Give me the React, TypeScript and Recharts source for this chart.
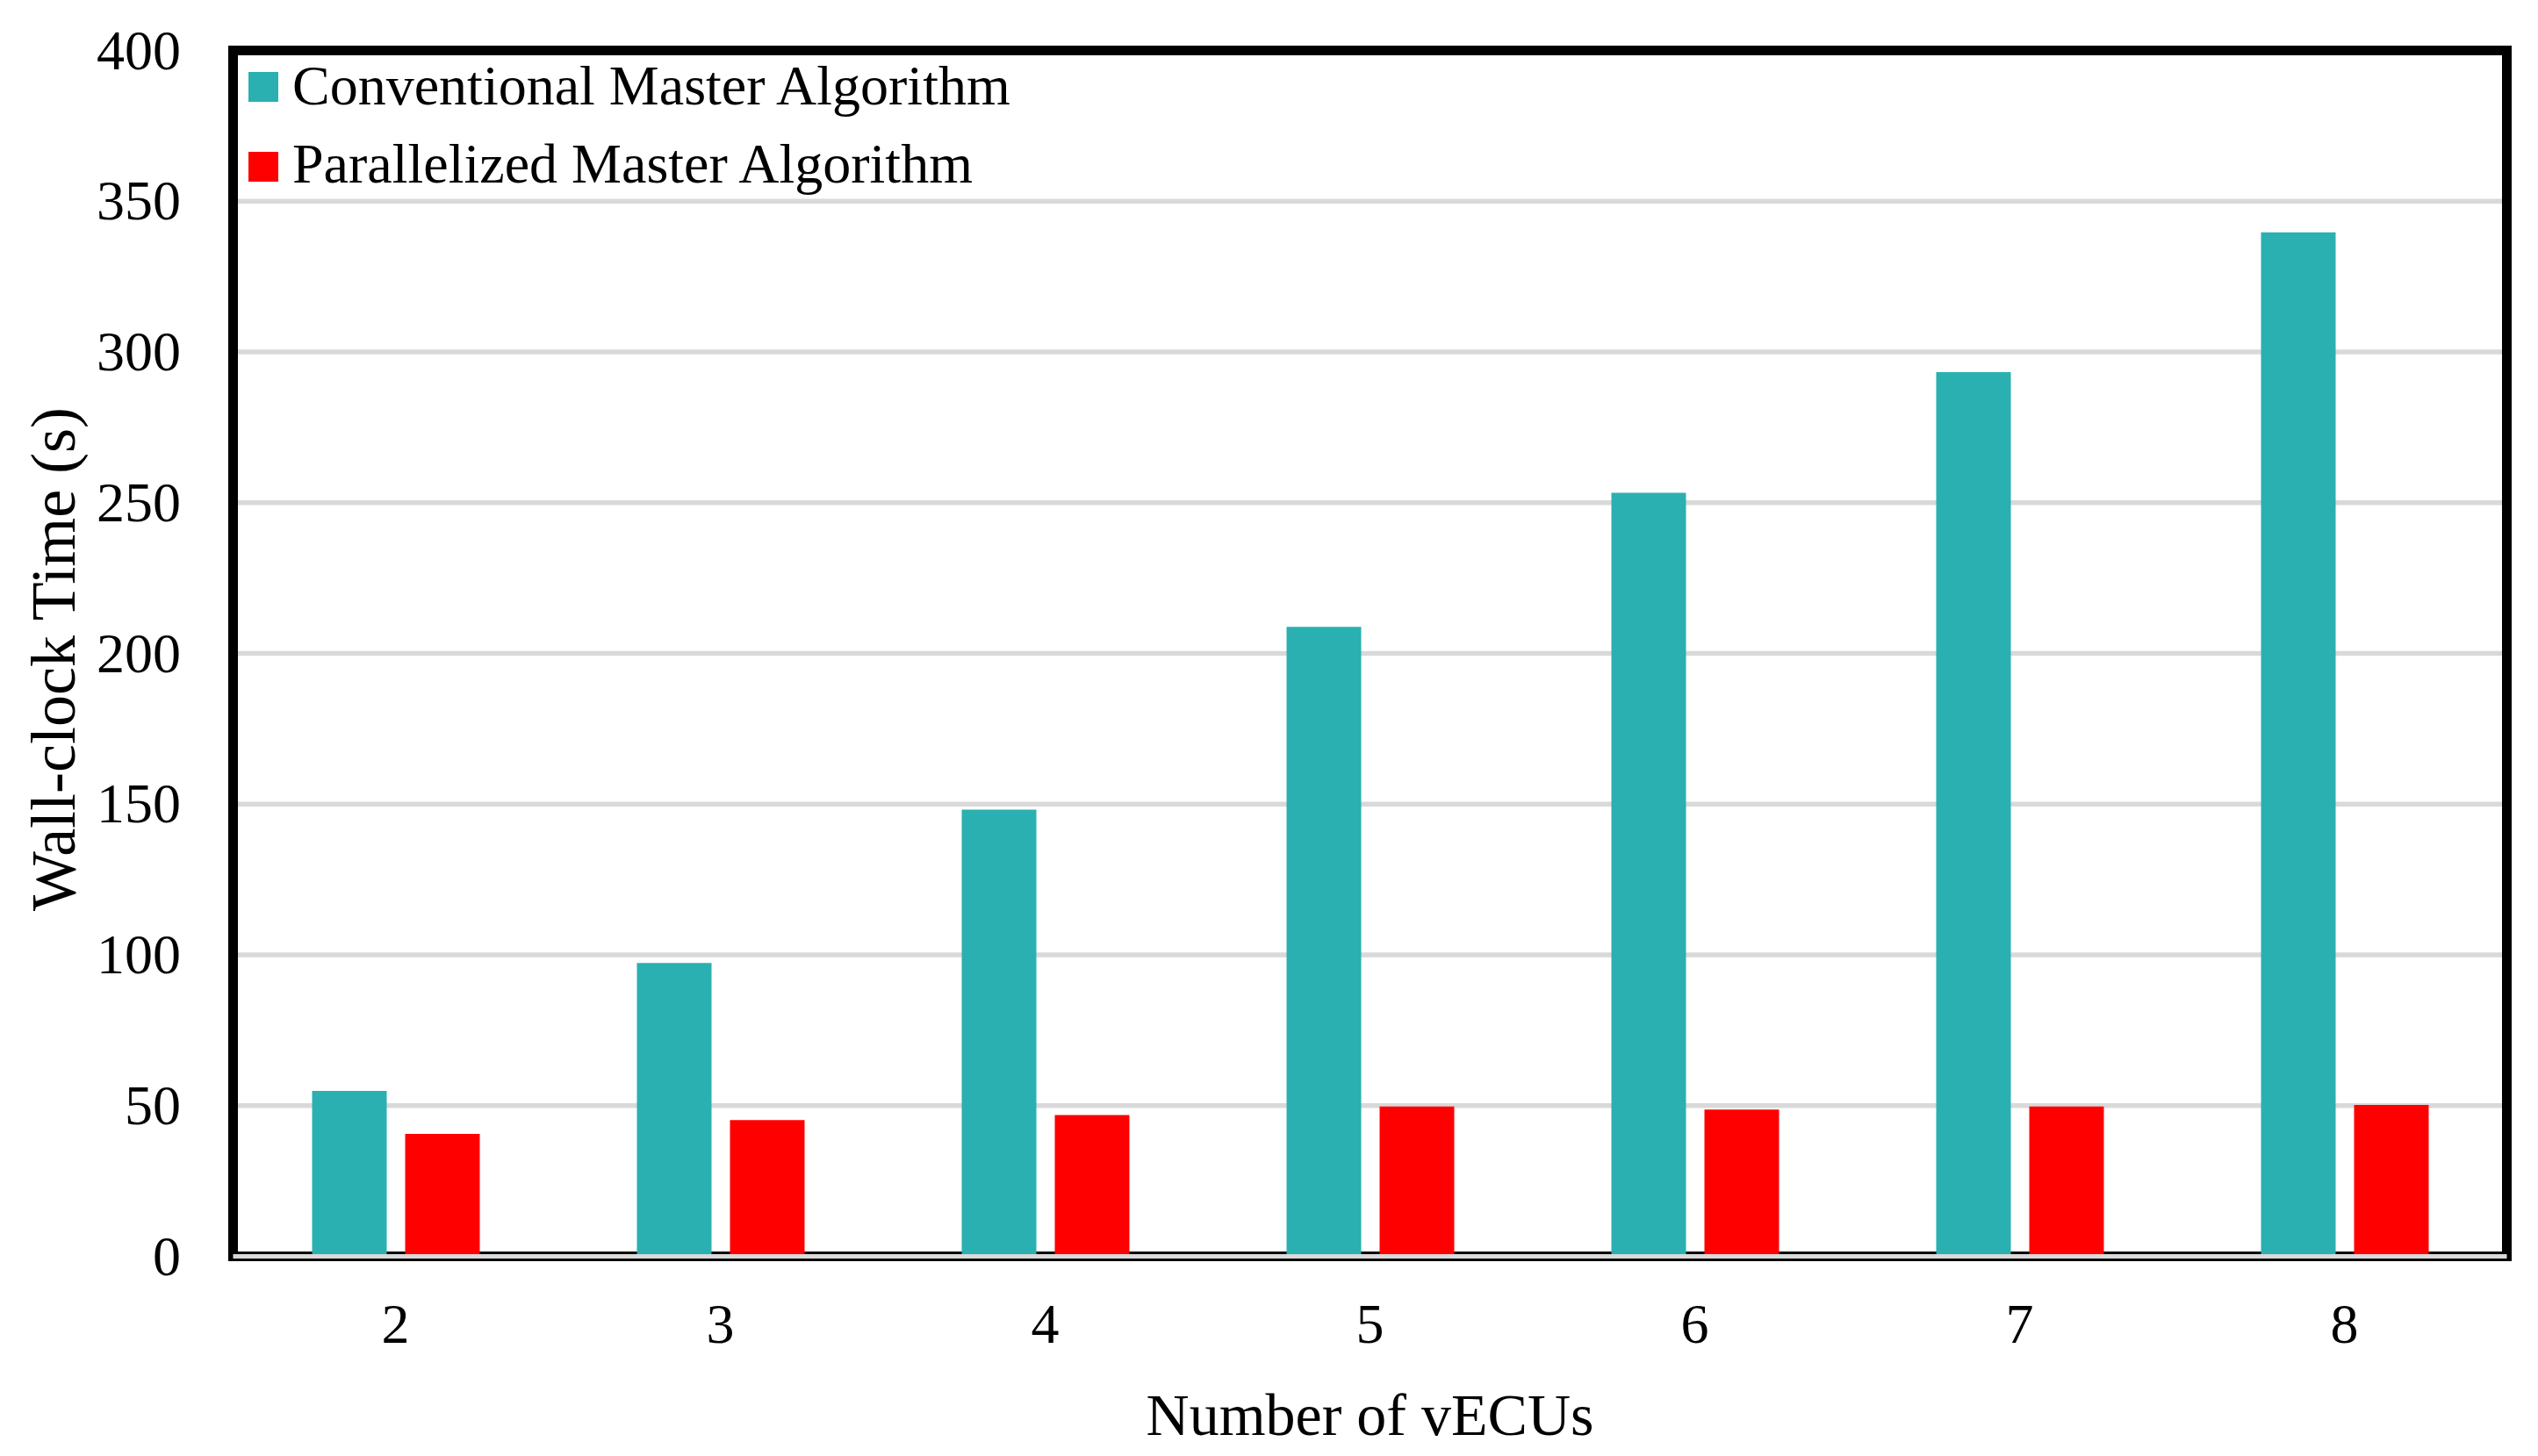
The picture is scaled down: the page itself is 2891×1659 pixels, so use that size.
import React from 'react';
import { BarChart, Bar, XAxis, YAxis, CartesianGrid, Legend, ReferenceArea, ReferenceLine, Label } from 'recharts';

const categories = ['2', '3', '4', '5', '6', '7', '8'];
const conventional = [54.9, 97.3, 148.2, 208.8, 253.3, 293.3, 339.7];
const parallelized = [40.6, 45.2, 46.9, 49.7, 48.7, 49.7, 50.2];
const yTicks = [0, 50, 100, 150, 200, 250, 300, 350, 400];

const data = categories.map((c, i) => ({ n: c, conv: conventional[i], par: parallelized[i] }));

const FONT = 'Liberation Serif';
const TEAL = '#2AB0B1';
const RED = '#FF0000';
const GRID = '#D9D9D9';

const YTick = (props: any) => {
  const { x, y, payload } = props;
  return (
    <text x={x - 59.5} y={y + 21} textAnchor="end" fontFamily={FONT} fontSize={64} fill="#000">
      {payload.value}
    </text>
  );
};

const XTick = (props: any) => {
  const { x, y, payload } = props;
  return (
    <text x={x} y={y + 98} textAnchor="middle" fontFamily={FONT} fontSize={64} fill="#000">
      {payload.value}
    </text>
  );
};

const LegendContent = (props: any) => {
  const payload = props.payload || [];
  return (
    <svg width={1300} height={230} style={{ display: 'block', overflow: 'visible' }}>
      {payload.map((p: any, i: number) => (
        <g key={i}>
          <rect x={283} y={82 + i * 91} width={34} height={34} fill={p.color} />
          <text x={333} y={119 + i * 89} fontFamily={FONT} fontSize={64} fill="#000">
            {p.value}
          </text>
        </g>
      ))}
    </svg>
  );
};

export default function App() {
  return (
    <div style={{ position: 'absolute', left: 0, top: 0, width: 2891, height: 1659, background: '#fff' }}>
      <BarChart
        width={2891}
        height={1659}
        data={data}
        margin={{ top: 57.5, right: 35.5, bottom: 0, left: 0 }}
        barSize={85}
        barGap={21}
      >
        <CartesianGrid vertical={false} stroke={GRID} strokeWidth={5.5} />
        <ReferenceArea y1={0} y2={400} fill="none" stroke="#000" strokeWidth={11} ifOverflow="visible" />
        <XAxis
          dataKey="n"
          height={227.5}
          tickLine={false}
          axisLine={false}
          tickSize={0}
          tickMargin={0}
          tick={<XTick />}
          interval={0}
        >
          <Label
            content={(p: any) => {
              const vb = p.viewBox;
              return (
                <text x={vb.x + vb.width / 2} y={vb.y + 203.5} textAnchor="middle" fontFamily={FONT} fontSize={68} fill="#000">
                  Number of vECUs
                </text>
              );
            }}
          />
        </XAxis>
        <YAxis
          width={265.5}
          domain={[0, 400]}
          ticks={yTicks}
          tickLine={false}
          axisLine={false}
          tickSize={0}
          tickMargin={0}
          tick={<YTick />}
          interval={0}
        >
          <Label
            content={(p: any) => {
              const vb = p.viewBox;
              const cx = vb.x + 85;
              const cy = vb.y + vb.height / 2 + 6.5;
              return (
                <text x={cx} y={cy} textAnchor="middle" fontFamily={FONT} fontSize={72} fill="#000" transform={`rotate(-90, ${cx}, ${cy})`}>
                  Wall-clock Time (s)
                </text>
              );
            }}
          />
        </YAxis>
        <Legend
          layout="vertical"
          align="center"
          verticalAlign="middle"
          content={<LegendContent />}
          wrapperStyle={{ position: 'absolute', left: 0, top: 0, width: 1300, height: 230 }}
        />
        <Bar dataKey="conv" name="Conventional Master Algorithm" fill={TEAL} isAnimationActive={false} />
        <Bar dataKey="par" name="Parallelized Master Algorithm" fill={RED} isAnimationActive={false} />
        <ReferenceLine y={0} stroke={GRID} strokeWidth={5} ifOverflow="visible" />
      </BarChart>
    </div>
  );
}
